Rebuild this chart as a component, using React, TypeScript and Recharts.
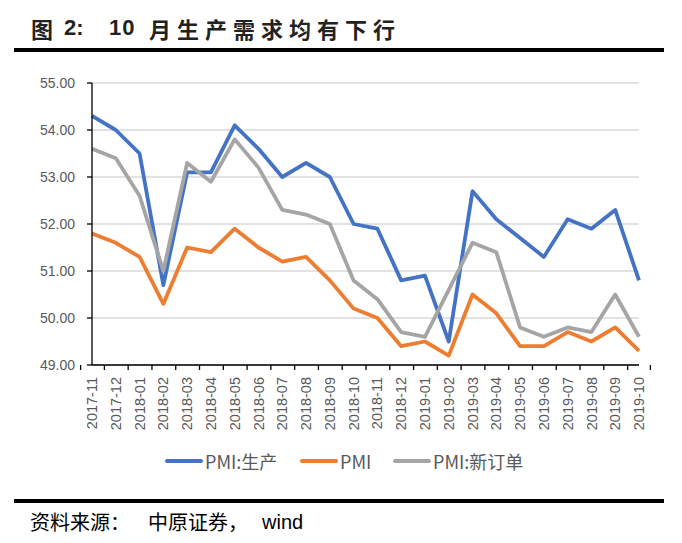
import React from "react";
import { LineChart, Line, XAxis, YAxis, CartesianGrid } from "recharts";

const months = [
  "2017-11", "2017-12", "2018-01", "2018-02", "2018-03", "2018-04",
  "2018-05", "2018-06", "2018-07", "2018-08", "2018-09", "2018-10",
  "2018-11", "2018-12", "2019-01", "2019-02", "2019-03", "2019-04",
  "2019-05", "2019-06", "2019-07", "2019-08", "2019-09", "2019-10",
];

const production = [
  54.3, 54.0, 53.5, 50.7, 53.1, 53.1, 54.1, 53.6, 53.0, 53.3, 53.0, 52.0,
  51.9, 50.8, 50.9, 49.5, 52.7, 52.1, 51.7, 51.3, 52.1, 51.9, 52.3, 50.8,
];

const pmi = [
  51.8, 51.6, 51.3, 50.3, 51.5, 51.4, 51.9, 51.5, 51.2, 51.3, 50.8, 50.2,
  50.0, 49.4, 49.5, 49.2, 50.5, 50.1, 49.4, 49.4, 49.7, 49.5, 49.8, 49.3,
];

const newOrders = [
  53.6, 53.4, 52.6, 51.0, 53.3, 52.9, 53.8, 53.2, 52.3, 52.2, 52.0, 50.8,
  50.4, 49.7, 49.6, 50.6, 51.6, 51.4, 49.8, 49.6, 49.8, 49.7, 50.5, 49.6,
];

const yTicks = [49, 50, 51, 52, 53, 54, 55];

const series = [
  { key: "production", name: "PMI:生产", color: "#4472C4" },
  { key: "pmi", name: "PMI", color: "#ED7D31" },
  { key: "newOrders", name: "PMI:新订单", color: "#A5A5A5" },
];

const data = months.map((m, i) => ({
  month: m,
  production: production[i],
  pmi: pmi[i],
  newOrders: newOrders[i],
}));

const CHART_W = 682;
const CHART_H = 440;
const MARGIN = { top: 83, right: 43, left: 32, bottom: 0 };
const Y_W = 60;
const STEP = (CHART_W - MARGIN.left - Y_W - MARGIN.right) / months.length;

const axisText = "#595959";
const font = "'Liberation Sans', Arial, sans-serif";
const cjk = "'Noto Sans CJK SC', sans-serif";

// legend item left edges
const legendX = [165, 300, 393];

function MonthTick(props: any) {
  const { x, y, payload, index } = props;
  const left = x - STEP / 2;
  return (
    <g>
      <line x1={left} y1={y} x2={left} y2={y + 5} stroke="#000" strokeWidth={1.3} />
      {index === months.length - 1 && (
        <line x1={x + STEP / 2} y1={y} x2={x + STEP / 2} y2={y + 5} stroke="#000" strokeWidth={1.3} />
      )}
      <text
        x={0}
        y={0}
        transform={`translate(${x},${y + 12}) rotate(-90)`}
        textAnchor="end"
        dy="0.35em"
        fill={axisText}
        fontSize={14.5}
        fontFamily={font}
      >
        {payload.value}
      </text>
    </g>
  );
}

const abs = (left: number, top: number, extra: React.CSSProperties = {}): React.CSSProperties => ({
  position: "absolute",
  left,
  top,
  whiteSpace: "pre",
  ...extra,
});

export default function App() {
  const titleStyle = { fontWeight: 700, fontSize: 22, color: "#222", lineHeight: "28px" };
  const srcStyle = { fontFamily: cjk, fontSize: 20, color: "#000", lineHeight: "26px" };
  return (
    <div
      style={{
        position: "absolute",
        left: 0,
        top: 0,
        width: 682,
        height: 543,
        background: "#fff",
        fontFamily: font,
      }}
    >
      <div style={abs(31, 14, { ...titleStyle, fontFamily: cjk })}>图</div>
      <div style={abs(64, 14, { ...titleStyle, fontFamily: font })}>2:</div>
      <div style={abs(109, 14, { ...titleStyle, fontFamily: font, letterSpacing: 1 })}>10</div>
      <div style={abs(149, 14, { ...titleStyle, fontFamily: cjk, letterSpacing: 6 })}>月生产需求均有下行</div>
      <div style={{ position: "absolute", left: 14, top: 48, width: 650, height: 4, background: "#000" }} />

      <div style={{ position: "absolute", left: 0, top: 0 }}>
        <LineChart width={CHART_W} height={CHART_H} data={data} margin={MARGIN}>
          <CartesianGrid vertical={false} stroke="#d9d9d9" strokeWidth={1.3} />
          <XAxis
            dataKey="month"
            interval={0}
            height={CHART_H - MARGIN.top - 282}
            tickLine={false}
            tickSize={0}
            tickMargin={0}
            axisLine={{ stroke: "#000", strokeWidth: 1.3 }}
            tick={<MonthTick />}
          />
          <YAxis
            width={Y_W}
            domain={[49, 55]}
            ticks={yTicks}
            interval={0}
            tickFormatter={(v: number) => v.toFixed(2)}
            tickSize={5}
            tickMargin={12}
            axisLine={{ stroke: "#000", strokeWidth: 1.3 }}
            tickLine={{ stroke: "#000", strokeWidth: 1.3 }}
            tick={{ fill: axisText, fontSize: 14, fontFamily: font }}
          />
          {series.map((s) => (
            <Line
              key={s.key}
              type="linear"
              dataKey={s.key}
              name={s.name}
              stroke={s.color}
              strokeWidth={3.8}
              strokeLinejoin="round"
              dot={false}
              activeDot={false}
              isAnimationActive={false}
            />
          ))}
        </LineChart>
      </div>

      {series.map((s, i) => (
        <div
          key={s.key}
          style={abs(legendX[i], 448, {
            display: "flex",
            alignItems: "center",
            fontFamily: cjk,
            fontSize: 18,
            color: axisText,
            lineHeight: "26px",
          })}
        >
          <div style={{ width: 38, height: 4, borderRadius: 2, background: s.color, marginRight: 2 }} />
          <span>{s.name}</span>
        </div>
      ))}

      <div style={{ position: "absolute", left: 14, top: 499, width: 650, height: 4, background: "#000" }} />
      <div style={abs(30, 509, srcStyle)}>资料来源：</div>
      <div style={abs(148, 509, srcStyle)}>中原证券，</div>
      <div style={abs(262, 509, { ...srcStyle, fontFamily: font })}>wind</div>
    </div>
  );
}
